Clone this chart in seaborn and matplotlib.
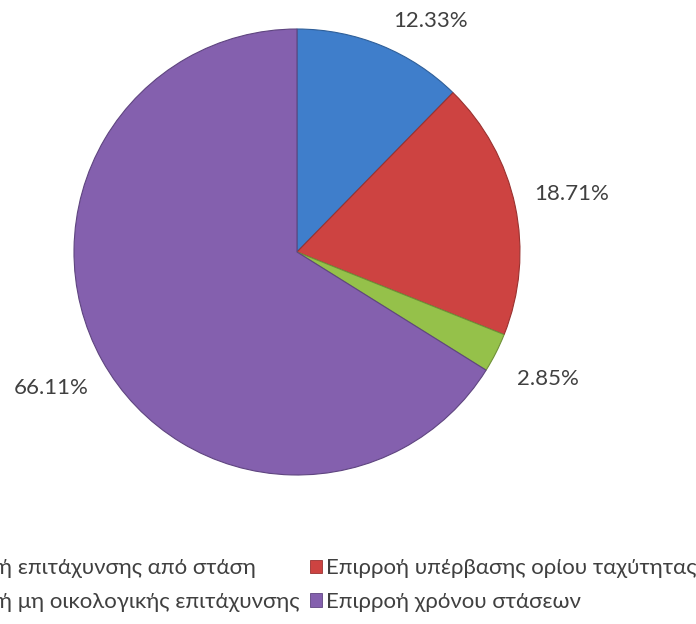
import matplotlib
matplotlib.use("Agg")
import matplotlib.pyplot as plt
import seaborn as sns
from matplotlib.patches import Patch

# Share of each factor in the total effect (percent)
categories = [
    "Επιρροή επιτάχυνσης από στάση",
    "Επιρροή υπέρβασης ορίου ταχύτητας",
    "Επιρροή μη οικολογικής επιτάχυνσης",
    "Επιρροή χρόνου στάσεων",
]
shares = [12.33, 18.71, 2.85, 66.11]
colors = ["#3F7ECB", "#CD4341", "#95C14A", "#8460AE"]
edge_colors = ["#2F5F99", "#9A3230", "#6F9137", "#5F4580"]

sns.set_theme(style="white")
plt.rcParams["font.family"] = ["Lato", "DejaVu Sans"]
text_color = "#404040"

fig = plt.figure(figsize=(6.96, 6.24), dpi=100)
ax = fig.add_axes([0.1063, 0.2388, 0.6408, 0.7147])

palette = sns.color_palette(colors)
wedges, texts, autotexts = ax.pie(
    shares,
    colors=palette,
    startangle=90,
    counterclock=False,
    autopct="%.2f%%",
    pctdistance=1.26,
    radius=1.0,
    wedgeprops=dict(linewidth=0.8),
    textprops=dict(color=text_color, fontsize=16),
)
for w, ec in zip(wedges, edge_colors):
    w.set_edgecolor(ec)
    w.set_clip_on(False)

# the first label sits just above the rim, shifted right
autotexts[0].set_position((0.60, 1.036))

ax.set_xlim(-1, 1)
ax.set_ylim(-1, 1)
ax.set_aspect("equal")
ax.axis("off")

# legend laid out in two columns, row by row
order = [0, 2, 1, 3]
handles = [Patch(facecolor=colors[i], edgecolor=edge_colors[i], linewidth=0.6) for i in order]
labels = [categories[i] for i in order]
leg = fig.legend(
    handles, labels,
    ncol=2,
    loc="center right",
    bbox_to_anchor=(696 / 696, 1 - 585 / 624),
    frameon=False,
    fontsize=16,
    handlelength=0.55,
    handleheight=0.55,
    handletextpad=0.15,
    columnspacing=0.45,
    labelspacing=0.62,
    borderpad=0,
    borderaxespad=0,
)
for t in leg.get_texts():
    t.set_color(text_color)

fig.savefig("out.png", dpi=100)
